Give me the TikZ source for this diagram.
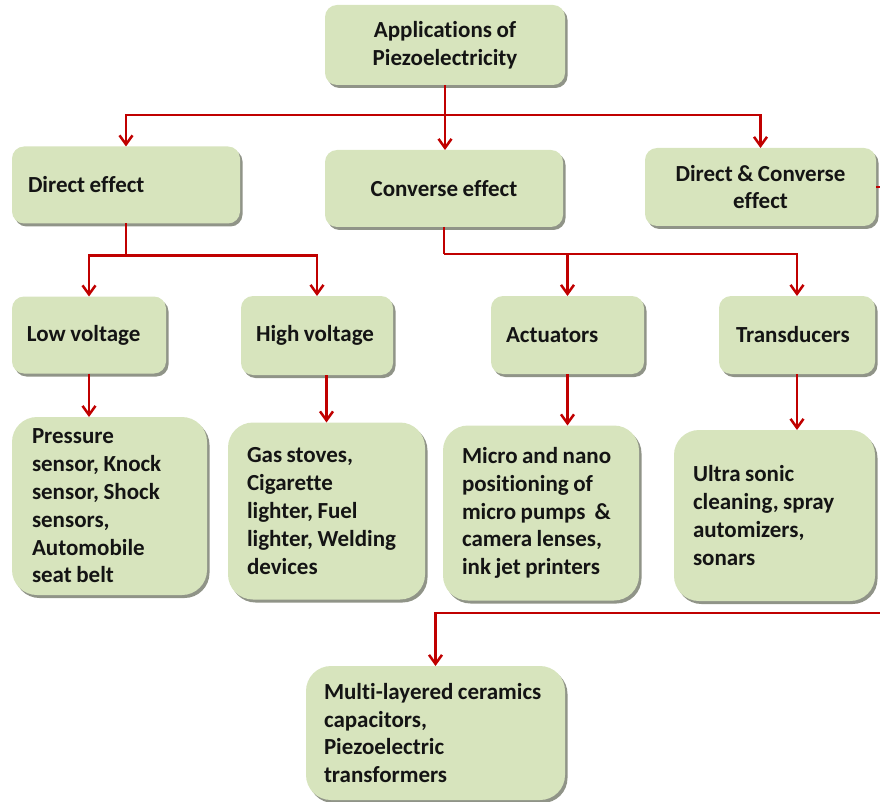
\documentclass[tikz,border=0pt]{standalone}
\usepackage{fontspec}
\setmainfont{Carlito}[RawFeature={-liga;-clig;-calt}]
\usetikzlibrary{arrows.meta,shadows,calc}
\definecolor{boxgreen}{HTML}{D7E4BD}
\definecolor{linkred}{HTML}{C00000}
\tikzset{
  box/.style = {rectangle, rounded corners=#1, fill=boxgreen,
                drop shadow={shadow xshift=2.5pt, shadow yshift=-3pt,
                             fill=black!55!boxgreen, opacity=0.7},
                font=\bfseries\fontsize{23}{27.8}\selectfont, text=black!92,
                execute at begin node={\hyphenpenalty=10000\spaceskip=4.5pt},
                inner sep=0pt, outer sep=0pt},
  box/.default = 12pt,
  wire/.style = {draw=linkred, line width=2.5pt},
  link/.style = {wire, -{Straight Barb[length=9pt,width=13pt]}}
}

\begin{document}
\begin{tikzpicture}[x=1pt,y=-1pt]
	\useasboundingbox (0,0) rectangle (880,802);
	
	% Root
	\node[box, minimum width=240, minimum height=80, text width=220, align=center] (app) at (445,45) {Applications of\\Piezoelectricity};
	
	% Effects
	\node[box, minimum width=228, minimum height=77, text width=196, align=left] (de) at (126,185) {Direct effect};
	\node[box, minimum width=238, minimum height=77, text width=220, align=center] (conv) at (444,188.5) {Converse effect};
	\node[box, minimum width=231, minimum height=78, text width=215, align=center] (dc) at (760.5,187) {Direct \& Converse\\effect};
	
	% Kinds
	\node[box, minimum width=154, minimum height=77, text width=124, align=left] (low) at (89,335) {Low voltage};
	\node[box, minimum width=152, minimum height=79, text width=122, align=left] (high) at (317,335.5) {High voltage};
	\node[box, minimum width=153, minimum height=78, text width=123, align=left] (act) at (567.5,335) {Actuators};
	\node[box, minimum width=156, minimum height=78, text width=122, align=left] (trans) at (797,335) {Transducers};
	
	% Uses
	\node[box=25pt, minimum width=195, minimum height=178, text width=155, align=left] (pres) at (109.5,506) {Pressure\\sensor, Knock\\sensor, Shock\\sensors,\\Automobile\\seat belt};
	\node[box=25pt, minimum width=197, minimum height=177, text width=159, align=left] (gas) at (326.5,511) {Gas stoves,\\Cigarette\\lighter, Fuel\\lighter, Welding\\devices};
	\node[box=25pt, minimum width=196, minimum height=175, text width=158, align=left] (micro) at (541,513) {Micro and nano\\positioning of\\micro pumps\ \ \&\\camera lenses,\\ink jet printers};
	\node[box=25pt, minimum width=201, minimum height=171, text width=163, align=left] (ultra) at (774.5,515.5) {Ultra sonic\\cleaning, spray\\automizers,\\sonars};
	\node[box=25pt, minimum width=259, minimum height=134, text width=223, align=left] (multi) at (435.5,733) {Multi-layered ceramics\\capacitors,\\Piezoelectric\\transformers};
	
	% Root to effects
	\coordinate (top bus) at ($(app.south)+(0,30)$);
	\draw[wire] (app.south) -- (top bus);
	\draw[link] (top bus) -| (de.north);
	\draw[link] (top bus) -- (top bus |- conv.north);
	\draw[link] (top bus) -| (dc.north);
	
	% Direct effect
	\coordinate (de bus) at ($(de.south)+(0,32)$);
	\draw[wire] (de.south) -- (de bus);
	\draw[link] (de bus) -| (low.north);
	\draw[link] (de bus) -| (high.north);
	
	% Converse effect
	\coordinate (conv bus) at ($(conv.south)+(0,27)$);
	\draw[wire] (conv.south) -- (conv bus);
	\draw[link] (conv bus) -| (act.north);
	\draw[link] (conv bus) -| (trans.north);
	
	% Kinds to uses
	\draw[link] (low.south) -- (low.south |- pres.north);
	\draw[link] (gas.north |- high.south) -- (gas.north);
	\draw[link] (act.south) -- (act.south |- micro.north);
	\draw[link] (trans.south) -- (trans.south |- ultra.north);
	
	% Direct & converse (runs past the right edge)
	\coordinate (dc out) at ($(dc.east)+(14,0)$);
	\coordinate (dc turn) at ($(dc out)+(0,426)$);
	\draw[link] (dc.east) -- (dc out) -- (dc turn) -| (multi.north);
	
\end{tikzpicture}
\end{document}
